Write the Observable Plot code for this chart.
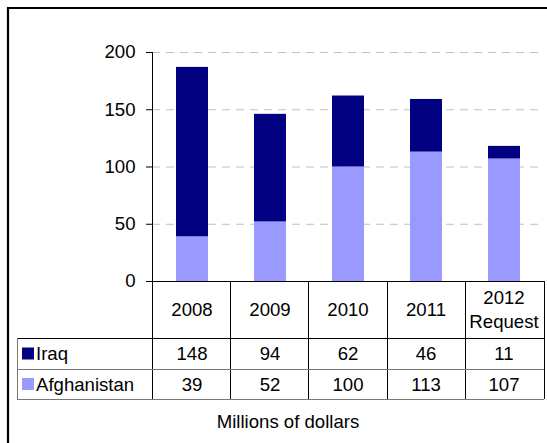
<!DOCTYPE html>
<html><head><meta charset="utf-8">
<script src="https://cdn.jsdelivr.net/npm/d3@7"></script>
<script src="https://cdn.jsdelivr.net/npm/@observablehq/plot@0.6"></script>
<style>
html,body{margin:0;padding:0;background:#fff;overflow:hidden;}
#chart{position:relative;width:547px;height:443px;}
</style></head><body><div id="chart"></div>
<script>
const years = ["2008","2009","2010","2011","2012 Request"];
const yearLines = [["2008"],["2009"],["2010"],["2011"],["2012","Request"]];
const series = ["Iraq","Afghanistan"];
const iraq = [148,94,62,46,11];
const afghanistan = [39,52,100,113,107];
const yTicks = [0,50,100,150,200];
const colors = ["#000080","#9999ff"];
const unitLabel = "Millions of dollars";

const rows = [];
years.forEach((y,i)=>rows.push({year:y, series:"Afghanistan", value:afghanistan[i]}));
years.forEach((y,i)=>rows.push({year:y, series:"Iraq", value:iraq[i]}));

const font = "Arial, 'Liberation Sans', Helvetica, sans-serif";
const fs = 18.6;
const plot = Plot.plot({
  width:547, height:443, marginLeft:152, marginRight:3, marginTop:52, marginBottom:162,
  style:{fontFamily:font, fontSize:fs+"px", color:"#000", background:"transparent", overflow:"hidden"},
  x:{domain:years, paddingInner:0.59, paddingOuter:0.295, axis:null},
  y:{domain:[0,200], axis:null},
  color:{domain:series, range:colors},
  marks:[
    Plot.ruleY(yTicks.filter(d=>d>0), {stroke:"#c0c0c0", strokeDasharray:"8,6", strokeWidth:1}),
    Plot.barY(rows, {x:"year", y:"value", fill:"series"}),
    Plot.axisY(yTicks, {label:null, tickSize:6, tickPadding:11, fontSize:fs, stroke:"#000", strokeOpacity:1, tickFormat:d=>String(d)})
  ]
});
document.getElementById("chart").appendChild(plot);

const svg = d3.select(plot);
const xs = plot.scale("x"), ys = plot.scale("y");
const xL = xs.range[0], xR = xs.range[1];
const colW = (xR - xL) / years.length;
const y0 = ys.apply(0), yTop = ys.apply(200);
const hdrB = y0 + 57, r1B = hdrB + 31, r2B = r1B + 30;
const legL = 17;
const g = svg.append("g");
const line = (x1,y1,x2,y2,c) => g.append("line").attr("x1",x1).attr("y1",y1).attr("x2",x2).attr("y2",y2)
  .attr("stroke",c).attr("stroke-width",1).attr("shape-rendering","crispEdges");

// outer frame (left & top)
g.append("path").attr("d",`M8,443V8H547`).attr("fill","none").attr("stroke","#000").attr("stroke-width",2.2);

// axis line and x baseline
line(xL, yTop, xL, r2B, "#000");
line(xL, y0, xR, y0, "#000");
for (let k=1;k<=years.length;k++) line(xL+k*colW, y0, xL+k*colW, r2B, "#000");
line(legL, hdrB, xR, hdrB, "#000");
line(legL, r1B, xR, r1B, "#777");
line(legL, r2B, xR, r2B, "#777");
line(legL, hdrB, legL, r2B, "#777");

const txt = (x,y,s,anchor="middle") => g.append("text").attr("x",x).attr("y",y).attr("text-anchor",anchor)
  .attr("dominant-baseline","central").attr("font-family",font).attr("font-size",fs).attr("fill","#000").text(s);

years.forEach((yr,i)=>{
  const cx = xs.apply(yr) + xs.bandwidth/2;
  const ls = yearLines[i];
  const lh = 24;
  const mid = (y0+hdrB)/2;
  ls.forEach((s,j)=>txt(cx, mid + (j-(ls.length-1)/2)*lh, s));
  txt(cx, (hdrB+r1B)/2, String(iraq[i]));
  txt(cx, (r1B+r2B)/2, String(afghanistan[i]));
});
[[series[0],colors[0],(hdrB+r1B)/2],[series[1],colors[1],(r1B+r2B)/2]].forEach(([name,c,cy])=>{
  g.append("rect").attr("x",22).attr("y",cy-6).attr("width",12).attr("height",12).attr("fill",c);
  txt(36, cy, name, "start");
});
txt(288, 421, unitLabel);
</script>
</body></html>
